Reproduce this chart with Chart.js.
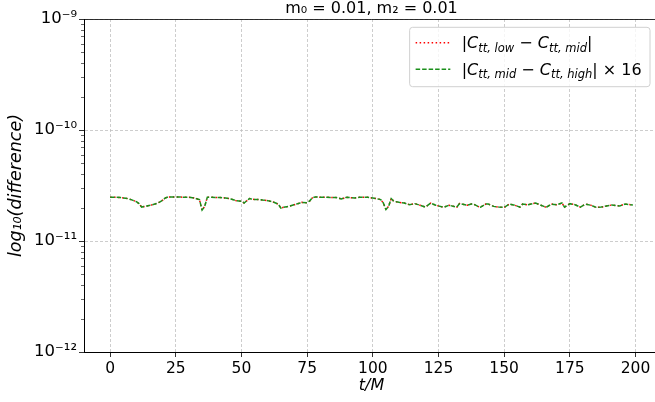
<!DOCTYPE html>
<html>
<head>
<meta charset="utf-8">
<script src="https://cdn.jsdelivr.net/npm/chart.js@4/dist/chart.umd.min.js"></script>
<style>
html,body{margin:0;padding:0;background:#fff;overflow:hidden;}
#wrap{width:659px;height:402px;}
</style>
</head>
<body>
<div id="wrap"><canvas id="c" width="659" height="402"></canvas></div>
<script>
// ---- data ----
const tValues = [0,2,4,6,8,10,11,12,14,16,18,19,20,21,22,24,26,28,30,32,34,35,36,37,38,40,42,44,46,48,50,51,52,53,55,57,58,60,62,64,65,66,68,70,72,73,75,76,77,78,80,82,84,86,88,90,93,95,98,100,101,103,104,105,106,107,108,110,112,114,116,118,120,122,124,127,129,132,133,136,138,140,141,143,144,146,148,150,152,154,156,157,159,162,164,166,168,170,172,173,175,177,179,181,183,185,187,189,191,194,196,199];
const lowMid = [2.48e-11,2.48e-11,2.46e-11,2.43e-11,2.36e-11,2.26e-11,2.17e-11,2.02e-11,2.07e-11,2.12e-11,2.19e-11,2.25e-11,2.33e-11,2.44e-11,2.49e-11,2.49e-11,2.49e-11,2.48e-11,2.48e-11,2.44e-11,2.36e-11,1.90e-11,2.05e-11,2.48e-11,2.48e-11,2.47e-11,2.46e-11,2.44e-11,2.39e-11,2.31e-11,2.28e-11,2.20e-11,2.30e-11,2.41e-11,2.36e-11,2.36e-11,2.34e-11,2.31e-11,2.25e-11,2.15e-11,1.98e-11,2.01e-11,2.05e-11,2.12e-11,2.19e-11,2.23e-11,2.21e-11,2.30e-11,2.45e-11,2.49e-11,2.48e-11,2.48e-11,2.47e-11,2.47e-11,2.39e-11,2.48e-11,2.44e-11,2.48e-11,2.48e-11,2.44e-11,2.42e-11,2.36e-11,2.20e-11,1.92e-11,2.05e-11,2.41e-11,2.28e-11,2.23e-11,2.20e-11,2.12e-11,2.17e-11,2.10e-11,2.02e-11,2.19e-11,2.10e-11,2.01e-11,2.10e-11,2.02e-11,2.17e-11,2.10e-11,2.17e-11,2.05e-11,2.02e-11,2.15e-11,2.15e-11,2.05e-11,2.02e-11,2.01e-11,2.15e-11,2.10e-11,2.02e-11,2.15e-11,2.12e-11,2.20e-11,2.10e-11,2.01e-11,2.15e-11,2.12e-11,2.20e-11,2.02e-11,2.17e-11,2.12e-11,2.02e-11,2.15e-11,2.10e-11,2.01e-11,2.02e-11,2.07e-11,2.11e-11,2.07e-11,2.15e-11,2.11e-11];
const midHigh16 = [2.48e-11,2.48e-11,2.46e-11,2.43e-11,2.36e-11,2.26e-11,2.17e-11,2.02e-11,2.07e-11,2.12e-11,2.19e-11,2.25e-11,2.33e-11,2.44e-11,2.49e-11,2.49e-11,2.49e-11,2.48e-11,2.48e-11,2.44e-11,2.36e-11,1.90e-11,2.05e-11,2.48e-11,2.48e-11,2.47e-11,2.46e-11,2.44e-11,2.39e-11,2.31e-11,2.28e-11,2.20e-11,2.30e-11,2.41e-11,2.36e-11,2.36e-11,2.34e-11,2.31e-11,2.25e-11,2.15e-11,1.98e-11,2.01e-11,2.05e-11,2.12e-11,2.19e-11,2.23e-11,2.21e-11,2.30e-11,2.45e-11,2.49e-11,2.48e-11,2.48e-11,2.47e-11,2.47e-11,2.39e-11,2.48e-11,2.44e-11,2.48e-11,2.48e-11,2.44e-11,2.42e-11,2.36e-11,2.20e-11,1.92e-11,2.05e-11,2.41e-11,2.28e-11,2.23e-11,2.20e-11,2.12e-11,2.17e-11,2.10e-11,2.02e-11,2.19e-11,2.10e-11,2.01e-11,2.10e-11,2.02e-11,2.17e-11,2.10e-11,2.17e-11,2.05e-11,2.02e-11,2.15e-11,2.15e-11,2.05e-11,2.02e-11,2.01e-11,2.15e-11,2.10e-11,2.02e-11,2.15e-11,2.12e-11,2.20e-11,2.10e-11,2.01e-11,2.15e-11,2.12e-11,2.20e-11,2.02e-11,2.17e-11,2.12e-11,2.02e-11,2.15e-11,2.10e-11,2.01e-11,2.02e-11,2.07e-11,2.11e-11,2.07e-11,2.15e-11,2.11e-11];
const xTicks = [0,25,50,75,100,125,150,175,200];
const yTicks = [1e-12,1e-11,1e-10,1e-9];
const yTickLabels = ['10\u207B\u00B9\u00B2','10\u207B\u00B9\u00B9','10\u207B\u00B9\u2070','10\u207B\u2079'];
const yMinorTicks = [2e-12,3e-12,4e-12,5e-12,6e-12,7e-12,8e-12,9e-12,2e-11,3e-11,4e-11,5e-11,6e-11,7e-11,8e-11,9e-11,2e-10,3e-10,4e-10,5e-10,6e-10,7e-10,8e-10,9e-10];
const titleText = 'm\u2080 = 0.01, m\u2082 = 0.01';
const xTitle = 't/M';
const yTitle = 'log\u2081\u2080(difference)';
const legendRich = [
  [['|','n'],['C','i'],['tt, low','s'],[' \u2212 ','n'],['C','i'],['tt, mid','s'],['|','n']],
  [['|','n'],['C','i'],['tt, mid','s'],[' \u2212 ','n'],['C','i'],['tt, high','s'],['| \u00D7 16','n']]
];

const FONT = "'DejaVu Sans', sans-serif";

const topSpine = {
  id: 'topSpine',
  afterDatasetsDraw(chart) {
    const {ctx, chartArea: a} = chart;
    const y = chart.scales.y;
    ctx.save();
    ctx.strokeStyle = '#000';
    ctx.lineWidth = 0.8;
    ctx.beginPath();
    ctx.moveTo(a.left, a.top + 0.5);
    ctx.lineTo(a.right, a.top + 0.5);
    ctx.stroke();
    // minor log ticks
    ctx.lineWidth = 0.6;
    yMinorTicks.forEach(v => {
      const py = Math.round(y.getPixelForValue(v)) + 0.5;
      ctx.beginPath();
      ctx.moveTo(a.left - 3, py);
      ctx.lineTo(a.left, py);
      ctx.stroke();
    });
    ctx.restore();
  }
};

const richLegend = {
  id: 'richLegend',
  afterDraw(chart) {
    const {ctx, chartArea: a} = chart;
    const fs = 16, ss = 11.5;
    const fonts = {
      n: `${fs}px ${FONT}`,
      i: `italic ${fs}px ${FONT}`,
      s: `italic ${ss}px ${FONT}`
    };
    ctx.save();
    const widths = legendRich.map(line => line.reduce((w, [t, k]) => { ctx.font = fonts[k]; return w + ctx.measureText(t).width; }, 0));
    const maxW = Math.max(...widths);
    const padL = 6, sample = 34.7, gap = 11.3, padR = 8.3;
    const boxW = padL + sample + gap + maxW + padR;
    const boxR = a.right - 9;
    const boxL = boxR - boxW;
    const boxT = a.top + 8.3, boxH = 59.4;
    const r = 3;
    ctx.beginPath();
    ctx.moveTo(boxL + r, boxT);
    ctx.arcTo(boxL + boxW, boxT, boxL + boxW, boxT + boxH, r);
    ctx.arcTo(boxL + boxW, boxT + boxH, boxL, boxT + boxH, r);
    ctx.arcTo(boxL, boxT + boxH, boxL, boxT, r);
    ctx.arcTo(boxL, boxT, boxL + boxW, boxT, r);
    ctx.closePath();
    ctx.fillStyle = 'rgba(255,255,255,0.8)';
    ctx.fill();
    ctx.strokeStyle = '#d0d0d0';
    ctx.lineWidth = 1;
    ctx.stroke();
    [0, 1].forEach((di, row) => {
      const ds = chart.data.datasets[di];
      const cy = boxT + 15.4 + row * 26.6;
      ctx.save();
      ctx.strokeStyle = ds.borderColor;
      ctx.lineWidth = ds.borderWidth;
      ctx.setLineDash(ds.borderDash);
      ctx.beginPath();
      ctx.moveTo(boxL + padL, cy);
      ctx.lineTo(boxL + padL + sample, cy);
      ctx.stroke();
      ctx.restore();
      let x = boxL + padL + sample + gap;
      const base = cy + 5.5;
      ctx.fillStyle = '#000';
      ctx.textBaseline = 'alphabetic';
      legendRich[row].forEach(([t, k]) => {
        ctx.font = fonts[k];
        ctx.fillText(t, x, k === 's' ? base + 3.5 : base);
        x += ctx.measureText(t).width;
      });
    });
    ctx.restore();
  }
};

new Chart(document.getElementById('c'), {
  type: 'line',
  data: {
    datasets: [
      {
        label: '|C_tt,low \u2212 C_tt,mid|',
        data: tValues.map((t, i) => ({x: t, y: lowMid[i]})),
        borderColor: '#ff0000',
        borderWidth: 1.5,
        borderDash: [1.5, 2.5],
        pointRadius: 0,
        tension: 0,
        fill: false,
        order: 1
      },
      {
        label: '|C_tt,mid \u2212 C_tt,high| \u00D7 16',
        data: tValues.map((t, i) => ({x: t, y: midHigh16[i]})),
        borderColor: '#1a8f1a',
        borderWidth: 1.5,
        borderDash: [4.5, 2],
        pointRadius: 0,
        tension: 0,
        fill: false,
        order: 0
      }
    ]
  },
  options: {
    responsive: false,
    animation: false,
    layout: {padding: 0},
    plugins: {
      legend: {display: false},
      tooltip: {enabled: false},
      title: {
        display: true,
        text: titleText,
        fullSize: false,
        color: '#000',
        font: {family: FONT, size: 16, weight: 'normal', lineHeight: 1.15},
        padding: {top: 0, bottom: 0.6}
      }
    },
    scales: {
      x: {
        type: 'linear',
        min: -9.95,
        max: 208.95,
        afterBuildTicks: s => { s.ticks = xTicks.map(v => ({value: v})); },
        afterFit: s => { s.height = 50; },
        ticks: {
          color: '#000',
          font: {family: FONT, size: 15.5},
          padding: 3,
          maxRotation: 0,
          autoSkip: false,
          callback: v => String(v)
        },
        grid: {
          color: '#c0c0c0',
          lineWidth: 0.8,
          tickLength: 5,
          tickColor: '#000',
          tickWidth: 0.8
        },
        border: {display: true, color: '#000', width: 1, dash: [3, 2]},
        title: {
          display: true,
          text: xTitle,
          color: '#000',
          font: {family: FONT, size: 16, style: 'italic', lineHeight: 1.2},
          padding: {top: 0, bottom: 6.5}
        }
      },
      y: {
        type: 'logarithmic',
        min: 1e-12,
        max: 1e-9,
        afterBuildTicks: s => { s.ticks = yTicks.map(v => ({value: v, major: true})); },
        afterFit: s => { s.width = 84; },
        ticks: {
          color: '#000',
          font: {family: FONT, size: 16.5},
          padding: 2,
          autoSkip: false,
          callback: (v) => { const i = yTicks.findIndex(t => Math.abs(t - v) / t < 1e-6); return i >= 0 ? yTickLabels[i] : ''; }
        },
        grid: {
          color: '#c0c0c0',
          lineWidth: 0.8,
          tickLength: 5,
          tickColor: '#000',
          tickWidth: 0.8
        },
        border: {display: true, color: '#000', width: 1, dash: [3, 2]},
        title: {
          display: true,
          text: yTitle,
          color: '#000',
          font: {family: FONT, size: 17.5, style: 'italic', lineHeight: 1.2},
          padding: {top: 6, bottom: 0}
        }
      }
    }
  },
  plugins: [topSpine, richLegend]
});
</script>
</body>
</html>
